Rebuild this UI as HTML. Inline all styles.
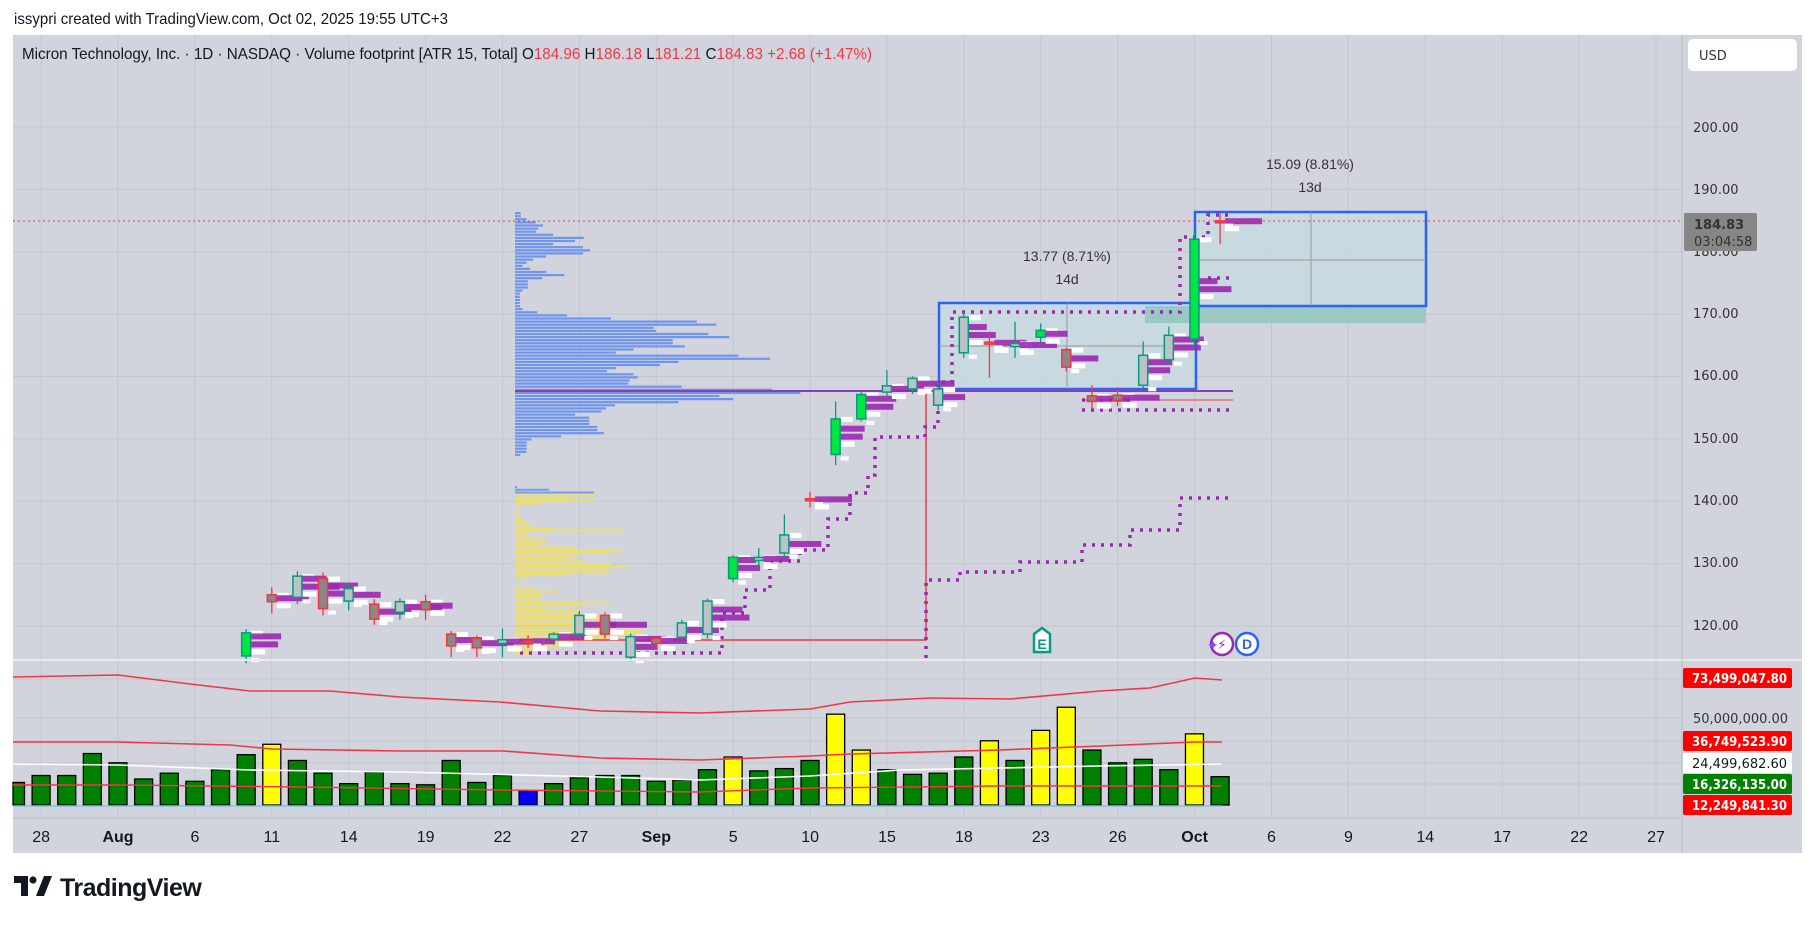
<!DOCTYPE html>
<html><head><meta charset="utf-8"><style>
body{margin:0;background:#fff;width:1815px;height:928px;overflow:hidden}
svg{display:block}
.t{font-family:"Liberation Sans Narrow","Liberation Sans",sans-serif}
.ax{font-family:"DejaVu Sans","Liberation Sans",sans-serif;font-size:13px;fill:#333}
</style></head><body>
<svg id="s" width="1815" height="928" xmlns="http://www.w3.org/2000/svg">
<rect x="0" y="0" width="1815" height="928" fill="#fff"/>
<rect x="13" y="35" width="1789" height="818" fill="#d1d4dc"/>
<g id="grid" stroke="#c2c6d0" stroke-width="1"></g>
<g id="layer"></g>
<line x1="13" y1="660" x2="1802" y2="660" stroke="#e8eaef" stroke-width="2"/>
<line x1="13" y1="818" x2="1682" y2="818" stroke="#b8bcc6" stroke-width="1"/>
<line x1="1682" y1="35" x2="1682" y2="853" stroke="#b8bcc6" stroke-width="1"/>
<line x1="13" y1="221" x2="1682" y2="221" stroke="#f23645" stroke-width="1" stroke-dasharray="2,3"/>
<text x="14" y="24" class="t" font-size="16" fill="#131722" textLength="434" lengthAdjust="spacingAndGlyphs">issypri created with TradingView.com, Oct 02, 2025 19:55 UTC+3</text>
<text x="22" y="59" class="t" font-size="16" fill="#131722" textLength="850" lengthAdjust="spacingAndGlyphs">Micron Technology, Inc. · 1D · NASDAQ · Volume footprint [ATR 15, Total]  O<tspan fill="#f23645">184.96</tspan>  H<tspan fill="#f23645">186.18</tspan>  L<tspan fill="#f23645">181.21</tspan>  C<tspan fill="#f23645">184.83  +2.68 (+1.47%)</tspan></text>
<rect x="1688" y="39" width="109" height="32" rx="5" fill="#fff"/>
<text x="1699" y="60" class="ax" fill="#131722">USD</text>
<g class="ax">
<text x="1693" y="132">200.00</text><text x="1693" y="194">190.00</text><text x="1693" y="256">180.00</text>
<text x="1693" y="318">170.00</text><text x="1693" y="380">160.00</text><text x="1693" y="443">150.00</text>
<text x="1693" y="505">140.00</text><text x="1693" y="567">130.00</text><text x="1693" y="630">120.00</text>
<text x="1693" y="723" textLength="95" lengthAdjust="spacingAndGlyphs">50,000,000.00</text>
</g>
<rect x="1684" y="213" width="73" height="38" rx="2" fill="#868686"/>
<text x="1694" y="229" class="ax" fill="#fff" font-weight="bold">184.83</text>
<text x="1694" y="246" class="ax" fill="#eee">03:04:58</text>
<g class="ax" font-weight="bold">
<rect x="1683" y="668" width="109" height="20" rx="2" fill="#ff0000"/><text x="1692" y="683" fill="#fff" textLength="95" lengthAdjust="spacingAndGlyphs">73,499,047.80</text>
<rect x="1683" y="731" width="109" height="20" rx="2" fill="#ff0000"/><text x="1692" y="746" fill="#fff" textLength="95" lengthAdjust="spacingAndGlyphs">36,749,523.90</text>
<rect x="1683" y="753" width="109" height="20" fill="#fff"/><text x="1692" y="768" fill="#131722" font-weight="normal" textLength="95" lengthAdjust="spacingAndGlyphs">24,499,682.60</text>
<rect x="1683" y="774" width="109" height="20" rx="2" fill="#008000"/><text x="1692" y="789" fill="#fff" textLength="95" lengthAdjust="spacingAndGlyphs">16,326,135.00</text>
<rect x="1683" y="795" width="109" height="20" rx="2" fill="#ff0000"/><text x="1692" y="810" fill="#fff" textLength="95" lengthAdjust="spacingAndGlyphs">12,249,841.30</text>
</g>
<g id="tl" class="t" font-size="16" fill="#131722" text-anchor="middle"></g>
<g class="t" font-size="14" fill="#333" text-anchor="middle">
<text x="1067" y="261">13.77 (8.71%)</text><text x="1067" y="284">14d</text>
<text x="1310" y="169">15.09 (8.81%)</text><text x="1310" y="192">13d</text>
</g>
<g transform="translate(1030,644)">
<path d="M4,-10 L12,-16 L20,-10 L20,8 L4,8 Z" fill="#fff" stroke="#089981" stroke-width="2.5"/>
<text x="12" y="5" text-anchor="middle" font-family="Liberation Sans" font-weight="bold" font-size="14" fill="#089981">E</text>
</g>
<circle cx="1222" cy="644" r="11" fill="#fff" stroke="#9c27b0" stroke-width="2.5"/>
<text x="1222" y="649" text-anchor="middle" font-family="DejaVu Sans" font-size="13" fill="#9c27b0">⚡</text>
<circle cx="1247" cy="644" r="11" fill="#fff" stroke="#2962ff" stroke-width="2.5"/>
<text x="1247" y="649" text-anchor="middle" font-family="Liberation Sans" font-weight="bold" font-size="14" fill="#2962ff">D</text>
<text x="1207" y="650" font-family="DejaVu Sans" font-size="14" fill="#7c4dff">✦</text>
<g transform="translate(14,876)">
<path d="M0,0 H14 V20 H7 V7 H0 Z" fill="#131722"/><circle cx="19" cy="4" r="3.6" fill="#131722"/><path d="M22,20 L30,0 H38 L30,20 Z" fill="#131722"/>
<text x="46" y="20" font-family="Liberation Sans" font-weight="bold" font-size="25" fill="#131722" letter-spacing="-0.5">TradingView</text>
</g>
</svg>
<script>
const NS="http://www.w3.org/2000/svg",L=document.getElementById('layer'),G=document.getElementById('grid');
function el(p,t,a){const e=document.createElementNS(NS,t);for(const k in a)e.setAttribute(k,a[k]);p.appendChild(e);return e}
const X=i=>118+25.63*i, Y=p=>626-(p-120)*6.2375;
for(let k=-1;k<22;k++){const x=118+76.9*k;if(x>13&&x<1682)el(G,'line',{x1:x,y1:35,x2:x,y2:818})}
for(let p=120;p<=200;p+=10)el(G,'line',{x1:13,y1:Y(p),x2:1682,y2:Y(p)});
[679,718,741,763,784].forEach(y=>el(G,'line',{x1:13,y1:y,x2:1682,y2:y}));
const tl=document.getElementById('tl');
["28","Aug","6","11","14","19","22","27","Sep","5","10","15","18","23","26","Oct","6","9","14","17","22","27"].forEach((s,k)=>{
 const x=118+76.9*(k-1);const t=el(tl,'text',{x:Math.max(x,20),y:842});if(["Aug","Sep","Oct"].includes(s))t.setAttribute('font-weight','bold');t.textContent=s});
el(L,'rect',{x:939,y:303,width:257,height:86,fill:'#c5dde0',opacity:.7});
el(L,'rect',{x:1195,y:212,width:231,height:94,fill:'#c5dde0',opacity:.7});
el(L,'rect',{x:1145,y:306,width:281,height:17,fill:'#8fc4be',opacity:.8});
el(L,'rect',{x:939,y:303,width:257,height:86,fill:'none',stroke:'#2962ff','stroke-width':2.5});
el(L,'rect',{x:1195,y:212,width:231,height:94,fill:'none',stroke:'#2962ff','stroke-width':2.5});
el(L,'line',{x1:939,y1:346,x2:1196,y2:346,stroke:'#999'});el(L,'line',{x1:1067,y1:303,x2:1067,y2:389,stroke:'#999'});
el(L,'line',{x1:1195,y1:260,x2:1426,y2:260,stroke:'#999'});el(L,'line',{x1:1311,y1:212,x2:1311,y2:306,stroke:'#999'});
const bl=[13,13,26,47,63,52,47,86,155,135,86,153,169,153,70,41,26,17,34,70,111,61,29,29,29,17,11,11,11,11,11,17,50,117,216,409,453,312,317,435,482,355,355,382,267,227,503,574,368,326,227,207,267,276,258,255,375,579,642,460,491,368,225,205,194,135,167,167,167,185,185,200,104,37,26,26,26,26,12];
bl.forEach((v,k)=>el(L,'rect',{x:515,y:212+k*3.1,width:v/2.25,height:2.2,fill:'#6f95f0'}));
const yl=[5,77,178,180,130,180,60,13,0,5,8,13,20,28,40,82,245,23,35,73,67,52,135,245,215,145,120,158,218,255,208,212,120,30,0,0,5,45,97,60,58,60,215,155,67,146,148,188,190,195,240,225,280,290,290,210,180,120,100,60,40,30];
yl.forEach((v,k)=>el(L,'rect',{x:515,y:486+k*2.75,width:v/2.25,height:2,fill:k<3?'#6f95f0':'#f0e060',opacity:.9}));
el(L,'polyline',{points:`515,640 926,640 926,391 1233,391`,fill:'none',stroke:'#f23645','stroke-width':1.5});
el(L,'line',{x1:515,y1:391,x2:1233,y2:391,stroke:'#8a3fb0','stroke-width':2});
el(L,'line',{x1:1082,y1:400,x2:1233,y2:400,stroke:'#f23645','stroke-width':1});
const dp=(pts)=>el(L,'polyline',{points:pts,fill:'none',stroke:'#9c27b0','stroke-width':3.5,'stroke-dasharray':'3,6'});
dp("520,653 722,653 722,613 745,613 745,590 770,590 770,561 800,561 800,550 828,550 828,519 850,519 850,493 868,493 868,475 875,475 875,437 925,437 925,427 938,427 938,382 952,382 952,312 1180,312 1180,237 1208,237 1208,215 1233,215");
dp("926,658 926,580 960,580 960,572 1020,572 1020,562 1082,562 1082,545 1130,545 1130,530 1180,530 1180,498 1233,498");
dp("1082,410 1233,410");dp("1082,400 1130,400");dp("1208,278 1233,278");
const C=[[5,115.2,118.9,114,119.5],[6,125,123.9,122,126.2],[7,124.6,128,123.5,128.8],[8,127.6,122.8,121.7,128.6],[9,124,126,122.5,126.8],[10,123.5,121.1,120.2,124.3],[11,122.2,123.9,121,124.4],[12,123.9,122.6,121,125],[13,118.7,116.8,115,119.2],[14,118,116.5,115,118.5],[15,117.2,117.8,115,119.6],[16,117.6,117.5,116.5,118.5],[17,117.9,118.7,117,119],[18,118.7,121.7,117.8,122.4],[19,121.7,118.7,118,122.2],[20,115,118.3,114.3,118.8],[21,118,117.2,116.5,118.2],[22,118.2,120.5,117.5,121],[23,118.7,124,118,124.4],[24,127.6,131,127,131.4],[25,130.5,131,129.5,132.5],[26,131.7,134.6,131,137.9],[27,140.4,140.2,139,141.5],[28,147.5,153.2,145.8,156],[29,153.2,157.1,152.8,157.5],[30,157.5,158.5,156.8,161],[31,158,159.7,157.2,160],[32,155.4,158,154.6,159],[33,163.8,169.5,163,170.3],[34,165.5,165.3,159.8,167.2],[35,164.8,165.3,163,168.8],[36,166.3,167.4,165.5,168.5],[37,164.3,161.5,160.8,164.6],[38,156.9,156,154.8,158.6],[39,157,156.2,155.3,158.3],[40,158.6,163.4,158,165.6],[41,162.7,166.6,162.2,168],[42,166,182,164.5,183.5],[43,184.96,184.83,181.21,186.18]];
C.forEach(([i,o,c,l,h])=>{const x=X(i),up=c>=o,bright=(i==5||i==24||i==28||i==29||i==36||i==42);
 const col=up?'#089981':'#f23645';
 const m=(o+c)/2;
 el(L,'rect',{x:x+5,y:Y(Math.max(o,c))-2,width:12,height:5,fill:'#fff'});
 el(L,'rect',{x:x+5,y:Y(m)-3,width:22+(i%4)*5,height:6,fill:'#9c27b0',opacity:.9});
 el(L,'rect',{x:x+5,y:Y(m)+5,width:14,height:5,fill:'#fff'});
 el(L,'rect',{x:x+5,y:Y(Math.min(o,c))+2,width:8,height:4,fill:'#fff'});
 if(Math.abs(o-c)>3){el(L,'rect',{x:x+5,y:Y(m)-11,width:18+(i%3)*6,height:6,fill:'#9c27b0',opacity:.9})}
 el(L,'line',{x1:x,y1:Y(h),x2:x,y2:Y(l),stroke:col,'stroke-width':1.3});
 const top=Y(Math.max(o,c)),bh=Math.max(2,Math.abs(Y(o)-Y(c)));
 el(L,'rect',{x:x-4.5,y:top,width:9,height:bh,fill:bright?'#00e640':(up?'#b9c4c6':'#888'),stroke:col,'stroke-width':1.5});
});
const V=[[-4,676],[-3,670],[-2,670],[-1,651],[0,659],[1,673],[2,668],[3,675],[4,665],[5,652],[6,643,'y'],[7,657],[8,668],[9,677],[10,667],[11,677],[12,678],[13,657],[14,676],[15,670],[16,683,'b'],[17,677],[18,672],[19,670],[20,670],[21,675],[22,674],[23,665],[24,654,'y'],[25,666],[26,664],[27,657],[28,617,'y'],[29,648,'y'],[30,665],[31,669],[32,668],[33,654],[34,640,'y'],[35,657],[36,631,'y'],[37,611,'y'],[38,648],[39,659],[40,656],[41,665],[42,634,'y'],[43,671]];
V.forEach(([i,t,c])=>{const x=X(i),top=t*1.1575;el(L,'rect',{x:Math.max(13,x-9),y:top,width:x-9<13?x+9-13:18,height:805-top,fill:c=='y'?'#ffff00':c=='b'?'#0000ff':'#008000',stroke:'#000','stroke-width':1.3})});
const ln=(pts,col,w)=>el(L,'polyline',{points:pts,fill:'none',stroke:col,'stroke-width':w||1.3});
ln("13,677 118,675 190,684 250,691 330,691 400,697 500,702 600,711 700,713 810,709 850,702 930,698 1010,699 1100,691 1150,688 1195,678 1222,680",'#f23645',1.6);
ln("13,742 118,742 230,745 272,749 400,751 503,751 600,758 700,760 810,756 850,754 1000,750 1100,746 1195,742 1222,742",'#f23645',1.6);
ln("13,764 118,765 250,770 400,772 600,777 700,780 810,776 900,770 1100,766 1222,764",'#ffffff',1.6);
ln("13,785 118,785 300,787 500,790 700,792 810,788 1000,786 1222,786",'#f23645',1.4);
ln("13,806 1222,806",'#7ec3e0',1.5);
</script>
</body></html>
